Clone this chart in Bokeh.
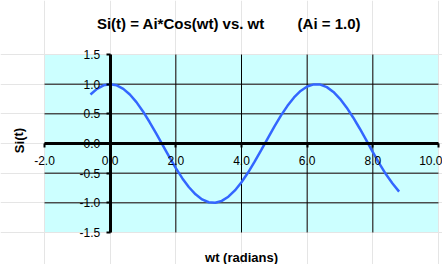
from bokeh.plotting import figure
from bokeh.models import (Label, FixedTicker, LinearAxis, BoxAnnotation,
                          PrintfTickFormatter)
from bokeh.embed import file_html
from bokeh.resources import INLINE

# ---- data ----
wt = [-0.6, -0.4, -0.2, 0.0, 0.2, 0.4, 0.6, 0.8, 1.0, 1.2, 1.4, 1.6, 1.8,
      2.0, 2.2, 2.4, 2.6, 2.8, 3.0, 3.2, 3.4, 3.6, 3.8, 4.0, 4.2, 4.4,
      4.6, 4.8, 5.0, 5.2, 5.4, 5.6, 5.8, 6.0, 6.2, 6.4, 6.6, 6.8, 7.0,
      7.2, 7.4, 7.6, 7.8, 8.0, 8.2, 8.4, 8.6, 8.8]
si = [0.825, 0.921, 0.980, 1.000, 0.980, 0.921, 0.825, 0.697, 0.540,
      0.362, 0.170, -0.029, -0.227, -0.416, -0.589, -0.737, -0.857,
      -0.942, -0.990, -0.998, -0.967, -0.897, -0.791, -0.654, -0.490,
      -0.307, -0.112, 0.087, 0.284, 0.469, 0.635, 0.776, 0.886, 0.960,
      0.996, 0.993, 0.950, 0.869, 0.754, 0.608, 0.439, 0.253, 0.057,
      -0.146, -0.340, -0.519, -0.673, -0.811]

x_ticks = [-2.0, 0.0, 2.0, 4.0, 6.0, 8.0, 10.0]
x_tick_labels = ["-2.0", "0.0", "2.0", "4.0", "6.0", "8.0", "10.0"]
y_ticks = [-1.5, -1.0, -0.5, 0.0, 0.5, 1.0, 1.5]
y_tick_labels = ["-1.5", "-1.0", "-0.5", "0.0", "0.5", "1.0", "1.5"]

title_text = "Si(t) = Ai*Cos(wt) vs. wt" + "\u00a0" * 8 + "(Ai = 1.0)"
x_title = "wt (radians)"
y_title = "Si(t)"

# ---- layout (pixels inside the canvas) ----
W, H = 442, 264
PL, PR, PT, PB = 44, 438, 54, 232          # plot-area edges
X0, X1 = x_ticks[0], x_ticks[-1]
Y0, Y1 = y_ticks[0], y_ticks[-1]
xs = (PR - PL) / (X1 - X0)
ys = (PB - PT) / (Y1 - Y0)


def dx(px):  # canvas px -> data x
    return X0 + (px - PL) / xs


def dy(py):  # canvas py -> data y
    return Y1 - (py - PT) / ys


FONT = "Liberation Sans"

p = figure(width=W, height=H, x_range=(dx(0), dx(W)), y_range=(dy(H), dy(0)),
           x_axis_location=None, y_axis_location=None, title=None,
           toolbar_location=None, output_backend="svg")
p.min_border = 0
p.background_fill_color = "white"
p.border_fill_color = "white"
p.outline_line_color = None

# plot area
p.add_layout(BoxAnnotation(left=X0, right=X1, bottom=Y0, top=Y1,
                           fill_color="#ccffff", fill_alpha=1.0,
                           line_color="#808080", line_width=1, level="image"))

# grid lines (inner ticks only, limited to the plot area)
gx = x_ticks[1:-1]
gy = y_ticks[1:-1]
p.segment(x0=gx, y0=[Y0] * len(gx), x1=gx, y1=[Y1] * len(gx),
          line_color="black", line_width=1)
p.segment(x0=[X0] * len(gy), y0=gy, x1=[X1] * len(gy), y1=gy,
          line_color="black", line_width=1)

# axes crossing at zero
xaxis = LinearAxis(fixed_location=0, bounds=(X0, X1),
                   ticker=FixedTicker(ticks=x_ticks),
                   formatter=PrintfTickFormatter(format="%.1f"),
                   major_label_overrides=dict(zip(x_ticks, x_tick_labels)))
yaxis = LinearAxis(fixed_location=0, bounds=(Y0, Y1),
                   ticker=FixedTicker(ticks=y_ticks),
                   formatter=PrintfTickFormatter(format="%.1f"),
                   major_label_overrides=dict(zip(y_ticks, y_tick_labels)))
for ax in (xaxis, yaxis):
    ax.axis_line_color = "black"
    ax.axis_line_width = 3
    ax.major_tick_in = 0
    ax.major_tick_out = 4
    ax.major_tick_line_width = 2
    ax.major_tick_line_color = "black"
    ax.minor_tick_in = 0
    ax.minor_tick_out = 0
    ax.major_label_text_font = FONT
    ax.major_label_text_font_size = "12px"
    ax.major_label_text_color = "black"
xaxis.major_label_standoff = 8
yaxis.major_label_standoff = 6
p.add_layout(xaxis, "below")
p.add_layout(yaxis, "left")

# curve
p.line(wt, si, line_color="#3366ff", line_width=2.5)

# titles
p.add_layout(Label(x=dx(228.5), y=dy(22.5), text=title_text,
                   text_align="center", text_baseline="alphabetic",
                   text_font=FONT, text_font_size="15px",
                   text_font_style="bold", text_color="black"))
p.add_layout(Label(x=dx(241), y=dy(257), text=x_title,
                   text_align="center", text_baseline="alphabetic",
                   text_font=FONT, text_font_size="13px",
                   text_font_style="bold", text_color="black"))
p.add_layout(Label(x=dx(18.5), y=dy(140), text=y_title,
                   text_align="center", text_baseline="middle", angle=1.5708,
                   text_font=FONT, text_font_size="13px",
                   text_font_style="bold", text_color="black"))

open("out.html", "w").write(file_html(p, INLINE))
